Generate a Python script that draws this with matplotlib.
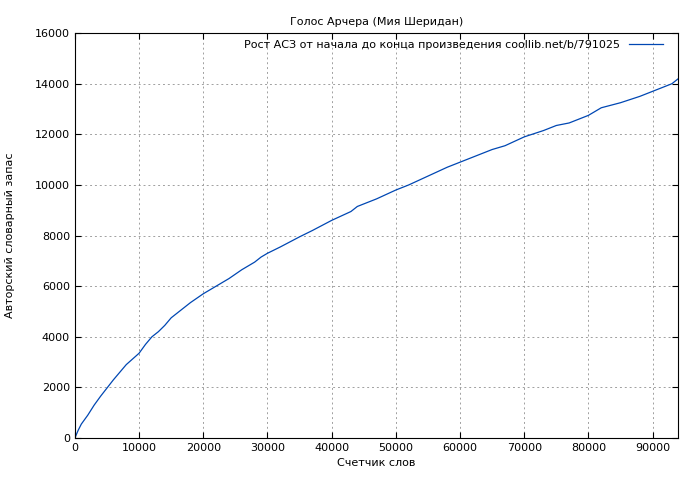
import matplotlib
matplotlib.use("Agg")
import matplotlib.pyplot as plt

words = [0, 500, 1000, 2000, 3000, 4000, 6000, 8000, 10000, 11000, 12000, 13000, 14000, 15000, 16000, 18000,
         20000, 22000, 24000, 26000, 28000, 29000, 30000, 32000, 35000, 37000, 40000, 43000, 44000,
         47000, 50000, 52000, 55000, 58000, 60000, 63000, 65000, 67000, 70000, 73000, 75000, 77000,
         80000, 82000, 85000, 88000, 90000, 92000, 93000, 94000]
vocab = [0, 300, 550, 900, 1300, 1650, 2300, 2900, 3350, 3700, 4000, 4200, 4450, 4750, 4950, 5350,
         5700, 6000, 6300, 6650, 6950, 7150, 7300, 7550, 7950, 8200, 8600, 8950, 9150,
         9450, 9800, 10000, 10350, 10700, 10900, 11200, 11400, 11550, 11900, 12150, 12350, 12450,
         12750, 13050, 13250, 13500, 13700, 13900, 14000, 14200]

plt.rcParams['font.family'] = ['DejaVu Sans']
fig = plt.figure(figsize=(7, 4.8), dpi=100)
ax = fig.add_axes([0.107, 0.0875, 0.862, 0.8435])
ax.plot(words, vocab, color='#0047b3', lw=0.9, label='Рост АСЗ от начала до конца произведения coollib.net/b/791025')
ax.set_xlim(0, 94000)
ax.set_ylim(0, 16000)
ax.set_xticks(range(0, 94000, 10000))
ax.set_yticks(range(0, 16001, 2000))
ax.tick_params(labelsize=8, direction='in', length=4, top=True, right=True)
ax.grid(True, color='#a0a0a0', ls=(0, (2, 3)), lw=0.7)
ax.set_title('Голос Арчера (Мия Шеридан)', fontsize=8)
ax.set_xlabel('Счетчик слов', fontsize=8)
ax.set_ylabel('Авторский словарный запас', fontsize=8, labelpad=14)
leg = ax.legend(loc='upper right', fontsize=8, frameon=False, markerfirst=False, handlelength=3,
                borderaxespad=0.2, bbox_to_anchor=(0.985, 1.0))
fig.savefig('out.png', dpi=100)
